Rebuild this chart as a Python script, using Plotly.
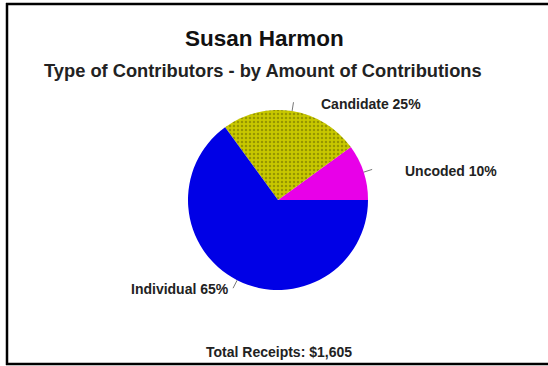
import math
import plotly.graph_objects as go

# ---- data ----
categories = ["Uncoded", "Candidate", "Individual"]
shares = [10, 25, 65]
slice_colors = ["#E800E8", "#C8C800", "#0000E6"]
title_text = "Susan Harmon"
subtitle_text = "Type of Contributors - by Amount of Contributions"
footer_text = "Total Receipts: $1,605"

W, H = 548, 366
cx, cy, R = 278, 200, 90  # pie centre / radius in pixels


def px(x):
    return x / W


def py(y):
    return 1 - y / H


fig = go.Figure()
fig.add_trace(go.Pie(
    labels=categories,
    values=shares,
    sort=False,
    direction="counterclockwise",
    rotation=54,
    textinfo="none",
    hoverinfo="label+percent",
    marker=dict(
        colors=slice_colors,
        line=dict(width=0),
        pattern=dict(
            shape=["", ".", ""],
            bgcolor=slice_colors,
            fgcolor=["#E800E8", "#969600", "#0000E6"],
            size=4,
            solidity=0.3,
        ),
    ),
    domain=dict(x=[px(cx - R), px(cx + R)], y=[py(cy + R), py(cy - R)]),
    showlegend=False,
))

font_b = "Liberation Sans, Arial, sans-serif"

# leader lines computed from the data angles
shapes = []
label_offsets = {
    "Uncoded": (403, 171, "left"),
    "Candidate": (319, 104, "left"),
    "Individual": (231, 289, "right"),
}
cum = 0
total = sum(shares)
annotations = []
for cat, v in zip(categories, shares):
    mid = (cum + v / 2) / total * 2 * math.pi
    cum += v
    x1 = cx + R * math.cos(mid)
    y1 = cy - R * math.sin(mid)
    x2 = cx + (R + 9) * math.cos(mid)
    y2 = cy - (R + 9) * math.sin(mid)
    shapes.append(dict(type="line", xref="paper", yref="paper",
                       x0=px(x1), y0=py(y1), x1=px(x2), y1=py(y2),
                       line=dict(color="#777777", width=1)))
    lx, ly, anchor = label_offsets[cat]
    annotations.append(dict(
        text=f"{cat} {v}%", x=px(lx), y=py(ly), xref="paper", yref="paper",
        xanchor=anchor, yanchor="middle", showarrow=False,
        font=dict(family=font_b, size=14, color="#222222", weight="bold"),
    ))

annotations += [
    dict(text=title_text, x=px(264), y=py(38), xref="paper", yref="paper",
         xanchor="center", yanchor="middle", showarrow=False,
         font=dict(family=font_b, size=22.5, color="#111111", weight="bold")),
    dict(text=subtitle_text, x=px(263), y=py(70), xref="paper", yref="paper",
         xanchor="center", yanchor="middle", showarrow=False,
         font=dict(family=font_b, size=18.3, color="#222222", weight="bold")),
    dict(text=footer_text, x=px(279), y=py(352), xref="paper", yref="paper",
         xanchor="center", yanchor="middle", showarrow=False,
         font=dict(family=font_b, size=14, color="#222222", weight="bold")),
]

# frame (top, left, bottom; open on the right)
frame = dict(color="black", width=2.5)
shapes += [
    dict(type="line", xref="paper", yref="paper", x0=px(6), y0=py(4), x1=1, y1=py(4), line=frame),
    dict(type="line", xref="paper", yref="paper", x0=px(7), y0=py(3), x1=px(7), y1=py(365), line=frame),
    dict(type="line", xref="paper", yref="paper", x0=px(6), y0=py(364), x1=1, y1=py(364), line=frame),
]

fig.update_layout(
    width=W, height=H,
    margin=dict(l=0, r=0, t=0, b=0),
    paper_bgcolor="white", plot_bgcolor="white",
    shapes=shapes, annotations=annotations,
)

fig.write_html(
    "out.html",
    config={"displayModeBar": False},
    post_script="document.body.style.margin='0';document.body.style.overflow='hidden';",
)
